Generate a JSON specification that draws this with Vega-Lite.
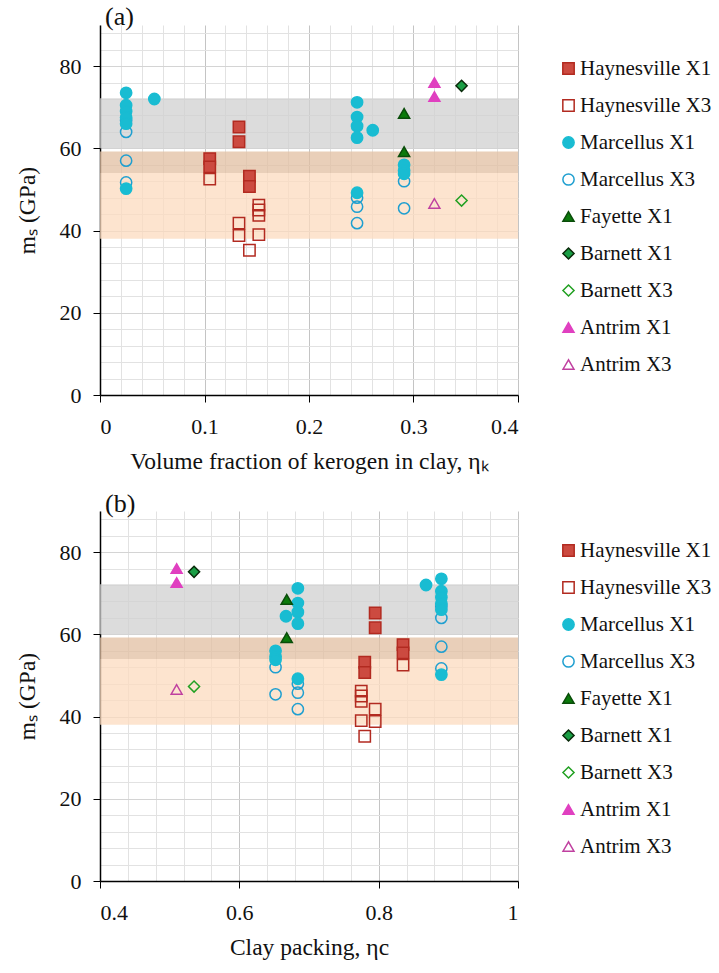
{
  "$schema": "https://vega.github.io/schema/vega-lite/v6.json",
  "background": "white",
  "padding": {"left": 15, "top": 4, "right": 5, "bottom": 5},
  "config": {
    "font": "Liberation Serif",
    "view": {"stroke": null},
    "axis": {"labelFont": "Liberation Serif", "titleFont": "Liberation Serif", "labelFontSize": 22, "titleFontSize": 23.5, "titleFontWeight": "normal", "labelColor": "#111", "titleColor": "#111", "domainColor": "#000", "tickColor": "#000", "domainWidth": 1.5, "tickSize": 7},
    "legend": {"labelFont": "Liberation Serif", "labelFontSize": 21, "labelColor": "#111"},
    "title": {"font": "Liberation Serif", "fontSize": 26, "fontWeight": "normal", "anchor": "start", "frame": "group", "color": "#111", "dx": 5}
  },
  "datasets": {
    "pts": [
      {"series": "Haynesville X1", "eta_k": 0.105, "eta_c": 0.835, "ms": 57.5},
      {"series": "Haynesville X1", "eta_k": 0.105, "eta_c": 0.835, "ms": 55.5},
      {"series": "Haynesville X1", "eta_k": 0.133, "eta_c": 0.795, "ms": 65.2},
      {"series": "Haynesville X1", "eta_k": 0.133, "eta_c": 0.795, "ms": 61.6},
      {"series": "Haynesville X1", "eta_k": 0.143, "eta_c": 0.78, "ms": 53.2},
      {"series": "Haynesville X1", "eta_k": 0.143, "eta_c": 0.78, "ms": 50.7},
      {"series": "Haynesville X3", "eta_k": 0.105, "eta_c": 0.835, "ms": 52.5},
      {"series": "Haynesville X3", "eta_k": 0.133, "eta_c": 0.795, "ms": 41.8},
      {"series": "Haynesville X3", "eta_k": 0.133, "eta_c": 0.795, "ms": 38.8},
      {"series": "Haynesville X3", "eta_k": 0.143, "eta_c": 0.78, "ms": 35.2},
      {"series": "Haynesville X3", "eta_k": 0.152, "eta_c": 0.775, "ms": 46.2},
      {"series": "Haynesville X3", "eta_k": 0.152, "eta_c": 0.775, "ms": 45.0},
      {"series": "Haynesville X3", "eta_k": 0.152, "eta_c": 0.775, "ms": 43.7},
      {"series": "Haynesville X3", "eta_k": 0.152, "eta_c": 0.775, "ms": 39.0},
      {"series": "Marcellus X3", "eta_k": 0.025, "eta_c": 0.89, "ms": 64.0},
      {"series": "Marcellus X3", "eta_k": 0.025, "eta_c": 0.89, "ms": 66.8},
      {"series": "Marcellus X3", "eta_k": 0.025, "eta_c": 0.89, "ms": 57.0},
      {"series": "Marcellus X3", "eta_k": 0.025, "eta_c": 0.89, "ms": 51.7},
      {"series": "Marcellus X3", "eta_k": 0.246, "eta_c": 0.684, "ms": 48.0},
      {"series": "Marcellus X3", "eta_k": 0.246, "eta_c": 0.684, "ms": 45.8},
      {"series": "Marcellus X3", "eta_k": 0.246, "eta_c": 0.684, "ms": 41.8},
      {"series": "Marcellus X3", "eta_k": 0.291, "eta_c": 0.652, "ms": 52.0},
      {"series": "Marcellus X3", "eta_k": 0.291, "eta_c": 0.652, "ms": 45.4},
      {"series": "Marcellus X1", "eta_k": 0.025, "eta_c": 0.89, "ms": 73.5},
      {"series": "Marcellus X1", "eta_k": 0.025, "eta_c": 0.89, "ms": 70.5},
      {"series": "Marcellus X1", "eta_k": 0.025, "eta_c": 0.89, "ms": 69.0},
      {"series": "Marcellus X1", "eta_k": 0.025, "eta_c": 0.89, "ms": 67.5},
      {"series": "Marcellus X1", "eta_k": 0.025, "eta_c": 0.89, "ms": 66.0},
      {"series": "Marcellus X1", "eta_k": 0.025, "eta_c": 0.89, "ms": 50.2},
      {"series": "Marcellus X1", "eta_k": 0.052, "eta_c": 0.868, "ms": 72.0},
      {"series": "Marcellus X1", "eta_k": 0.246, "eta_c": 0.684, "ms": 71.2},
      {"series": "Marcellus X1", "eta_k": 0.246, "eta_c": 0.684, "ms": 67.6},
      {"series": "Marcellus X1", "eta_k": 0.246, "eta_c": 0.684, "ms": 65.4},
      {"series": "Marcellus X1", "eta_k": 0.246, "eta_c": 0.684, "ms": 62.6},
      {"series": "Marcellus X1", "eta_k": 0.261, "eta_c": 0.667, "ms": 64.4},
      {"series": "Marcellus X1", "eta_k": 0.246, "eta_c": 0.684, "ms": 49.2},
      {"series": "Marcellus X1", "eta_k": 0.291, "eta_c": 0.652, "ms": 56.0},
      {"series": "Marcellus X1", "eta_k": 0.291, "eta_c": 0.652, "ms": 54.6},
      {"series": "Marcellus X1", "eta_k": 0.291, "eta_c": 0.652, "ms": 53.8},
      {"series": "Fayette X1", "eta_k": 0.291, "eta_c": 0.668, "ms": 68.5},
      {"series": "Fayette X1", "eta_k": 0.291, "eta_c": 0.668, "ms": 59.2},
      {"series": "Barnett X1", "eta_k": 0.346, "eta_c": 0.535, "ms": 75.2},
      {"series": "Barnett X3", "eta_k": 0.346, "eta_c": 0.535, "ms": 47.3},
      {"series": "Antrim X1", "eta_k": 0.32, "eta_c": 0.51, "ms": 76.0},
      {"series": "Antrim X1", "eta_k": 0.32, "eta_c": 0.51, "ms": 72.6},
      {"series": "Antrim X3", "eta_k": 0.32, "eta_c": 0.51, "ms": 46.6}
    ],
    "bands": [
      {"band": "grey", "lo": 60, "hi": 72.2},
      {"band": "orange", "lo": 38, "hi": 54},
      {"band": "overlap", "lo": 54, "hi": 59.2}
    ]
  },
  "vconcat": [
    {
      "title": {"text": "(a)", "offset": -5},
      "width": 418,
      "height": 370,
      "layer": [
        {
          "data": {"name": "pts"},
          "mark": {"type": "point", "opacity": 0},
          "encoding": {
            "x": {"field": "eta_k", "type": "quantitative", "scale": {"domain": [0, 0.4], "nice": false}, "axis": {"orient": "bottom", "values": [0.02,0.04,0.06,0.08,0.12,0.14,0.16,0.18,0.22,0.24,0.26,0.28,0.32,0.34,0.36,0.38], "labels": false, "ticks": false, "domain": false, "title": null, "grid": true, "gridColor": "#e2e2e2", "gridWidth": 1}},
            "y": {"field": "ms", "type": "quantitative", "scale": {"domain": [0, 90], "nice": false}, "axis": {"orient": "left", "values": [4,8,12,16,24,28,32,36,44,48,52,56,64,68,72,76,84,88], "labels": false, "ticks": false, "domain": false, "title": null, "grid": true, "gridColor": "#e2e2e2", "gridWidth": 1}}
          }
        },
        {
          "data": {"name": "bands"},
          "transform": [{"filter": "datum.band === 'grey'"}],
          "mark": {"type": "rect", "fill": "#d0d0d0", "opacity": 0.75},
          "encoding": {"y": {"field": "lo", "type": "quantitative", "axis": null}, "y2": {"field": "hi"}}
        },
        {
          "data": {"name": "bands"},
          "transform": [{"filter": "datum.band === 'orange'"}],
          "mark": {"type": "rect", "fill": "#fcdbbf", "opacity": 0.75},
          "encoding": {"y": {"field": "lo", "type": "quantitative", "axis": null}, "y2": {"field": "hi"}}
        },
        {
          "data": {"name": "bands"},
          "transform": [{"filter": "datum.band === 'overlap'"}],
          "mark": {"type": "rect", "fill": "#e2bfa2", "opacity": 0.75},
          "encoding": {"y": {"field": "lo", "type": "quantitative", "axis": null}, "y2": {"field": "hi"}}
        },
        {
          "data": {"name": "pts"},
          "mark": {"type": "point", "filled": true, "strokeWidth": 1.5, "opacity": 1},
          "encoding": {
            "x": {"field": "eta_k", "type": "quantitative", "axis": {"orient": "bottom", "values": [0, 0.1, 0.2, 0.3, 0.4], "format": "~g", "grid": true, "gridColor": "#c4c4c4", "title": "Volume fraction of kerogen in clay, ηₖ", "titlePadding": 12, "labelPadding": 14}},
            "y": {"field": "ms", "type": "quantitative", "axis": {"orient": "left", "values": [0, 20, 40, 60, 80], "grid": true, "gridColor": "#d4d4d4", "title": "mₛ (GPa)", "titlePadding": 20, "labelPadding": 12}},
            "shape": {"field": "series", "type": "nominal", "scale": {"domain": ["Haynesville X1","Haynesville X3","Marcellus X1","Marcellus X3","Fayette X1","Barnett X1","Barnett X3","Antrim X1","Antrim X3"], "range": ["square","square","circle","circle","triangle-up","diamond","diamond","triangle-up","triangle-up"]}, "legend": {"title": null, "orient": "none", "legendX": 458, "legendY": 33, "rowPadding": 15, "labelOffset": 1, "padding": 0}},
            "fill": {"field": "series", "type": "nominal", "scale": {"domain": ["Haynesville X1","Haynesville X3","Marcellus X1","Marcellus X3","Fayette X1","Barnett X1","Barnett X3","Antrim X1","Antrim X3"], "range": ["#cc4a40","transparent","#19bcd2","transparent","#0b7a0b","#1a9e45","transparent","#e040c0","transparent"]}, "legend": {"title": null, "orient": "none", "legendX": 458, "legendY": 33, "rowPadding": 15, "labelOffset": 1, "padding": 0}},
            "stroke": {"field": "series", "type": "nominal", "scale": {"domain": ["Haynesville X1","Haynesville X3","Marcellus X1","Marcellus X3","Fayette X1","Barnett X1","Barnett X3","Antrim X1","Antrim X3"], "range": ["#b22a20","#b22a20","#19bcd2","#1f9fd0","#0a4d0a","#0a2a0a","#22a022","#e040c0","#c040a0"]}, "legend": {"title": null, "orient": "none", "legendX": 458, "legendY": 33, "rowPadding": 15, "labelOffset": 1, "padding": 0}},
            "size": {"field": "series", "type": "nominal", "scale": {"domain": ["Haynesville X1","Haynesville X3","Marcellus X1","Marcellus X3","Fayette X1","Barnett X1","Barnett X3","Antrim X1","Antrim X3"], "range": [130,120,200,170,230,100,100,230,170]}, "legend": {"title": null, "orient": "none", "legendX": 458, "legendY": 33, "rowPadding": 15, "labelOffset": 1, "padding": 0}}
          }
        }
      ],
      "resolve": {"axis": {"x": "independent", "y": "independent"}}
    },
    {
      "title": {"text": "(b)", "offset": -6},
      "width": 418,
      "height": 370,
      "layer": [
        {
          "data": {"name": "pts"},
          "mark": {"type": "point", "opacity": 0},
          "encoding": {
            "x": {"field": "eta_c", "type": "quantitative", "scale": {"domain": [0.4, 1], "nice": false}, "axis": {"orient": "bottom", "values": [0.44,0.48,0.52,0.56,0.64,0.68,0.72,0.76,0.84,0.88,0.92,0.96], "labels": false, "ticks": false, "domain": false, "title": null, "grid": true, "gridColor": "#e2e2e2", "gridWidth": 1}},
            "y": {"field": "ms", "type": "quantitative", "scale": {"domain": [0, 90], "nice": false}, "axis": {"orient": "left", "values": [4,8,12,16,24,28,32,36,44,48,52,56,64,68,72,76,84,88], "labels": false, "ticks": false, "domain": false, "title": null, "grid": true, "gridColor": "#e2e2e2", "gridWidth": 1}}
          }
        },
        {
          "data": {"name": "bands"},
          "transform": [{"filter": "datum.band === 'grey'"}],
          "mark": {"type": "rect", "fill": "#d0d0d0", "opacity": 0.75},
          "encoding": {"y": {"field": "lo", "type": "quantitative", "axis": null}, "y2": {"field": "hi"}}
        },
        {
          "data": {"name": "bands"},
          "transform": [{"filter": "datum.band === 'orange'"}],
          "mark": {"type": "rect", "fill": "#fcdbbf", "opacity": 0.75},
          "encoding": {"y": {"field": "lo", "type": "quantitative", "axis": null}, "y2": {"field": "hi"}}
        },
        {
          "data": {"name": "bands"},
          "transform": [{"filter": "datum.band === 'overlap'"}],
          "mark": {"type": "rect", "fill": "#e2bfa2", "opacity": 0.75},
          "encoding": {"y": {"field": "lo", "type": "quantitative", "axis": null}, "y2": {"field": "hi"}}
        },
        {
          "data": {"name": "pts"},
          "mark": {"type": "point", "filled": true, "strokeWidth": 1.5, "opacity": 1},
          "encoding": {
            "x": {"field": "eta_c", "type": "quantitative", "axis": {"orient": "bottom", "values": [0.4, 0.6, 0.8, 1], "format": "~g", "grid": true, "gridColor": "#c4c4c4", "title": "Clay packing, ηc", "titlePadding": 12, "labelPadding": 14}},
            "y": {"field": "ms", "type": "quantitative", "axis": {"orient": "left", "values": [0, 20, 40, 60, 80], "grid": true, "gridColor": "#d4d4d4", "title": "mₛ (GPa)", "titlePadding": 20, "labelPadding": 12}},
            "shape": {"field": "series", "type": "nominal", "scale": {"domain": ["Haynesville X1","Haynesville X3","Marcellus X1","Marcellus X3","Fayette X1","Barnett X1","Barnett X3","Antrim X1","Antrim X3"], "range": ["square","square","circle","circle","triangle-up","diamond","diamond","triangle-up","triangle-up"]}, "legend": {"title": null, "orient": "none", "legendX": 458, "legendY": 29, "rowPadding": 15, "labelOffset": 1, "padding": 0}},
            "fill": {"field": "series", "type": "nominal", "scale": {"domain": ["Haynesville X1","Haynesville X3","Marcellus X1","Marcellus X3","Fayette X1","Barnett X1","Barnett X3","Antrim X1","Antrim X3"], "range": ["#cc4a40","transparent","#19bcd2","transparent","#0b7a0b","#1a9e45","transparent","#e040c0","transparent"]}, "legend": {"title": null, "orient": "none", "legendX": 458, "legendY": 29, "rowPadding": 15, "labelOffset": 1, "padding": 0}},
            "stroke": {"field": "series", "type": "nominal", "scale": {"domain": ["Haynesville X1","Haynesville X3","Marcellus X1","Marcellus X3","Fayette X1","Barnett X1","Barnett X3","Antrim X1","Antrim X3"], "range": ["#b22a20","#b22a20","#19bcd2","#1f9fd0","#0a4d0a","#0a2a0a","#22a022","#e040c0","#c040a0"]}, "legend": {"title": null, "orient": "none", "legendX": 458, "legendY": 29, "rowPadding": 15, "labelOffset": 1, "padding": 0}},
            "size": {"field": "series", "type": "nominal", "scale": {"domain": ["Haynesville X1","Haynesville X3","Marcellus X1","Marcellus X3","Fayette X1","Barnett X1","Barnett X3","Antrim X1","Antrim X3"], "range": [130,120,200,170,230,100,100,230,170]}, "legend": {"title": null, "orient": "none", "legendX": 458, "legendY": 29, "rowPadding": 15, "labelOffset": 1, "padding": 0}}
          }
        }
      ],
      "resolve": {"axis": {"x": "independent", "y": "independent"}}
    }
  ],
  "spacing": 18,
  "resolve": {"scale": {"x": "independent"}, "legend": {"shape": "independent", "fill": "independent", "stroke": "independent", "size": "independent"}}
}
